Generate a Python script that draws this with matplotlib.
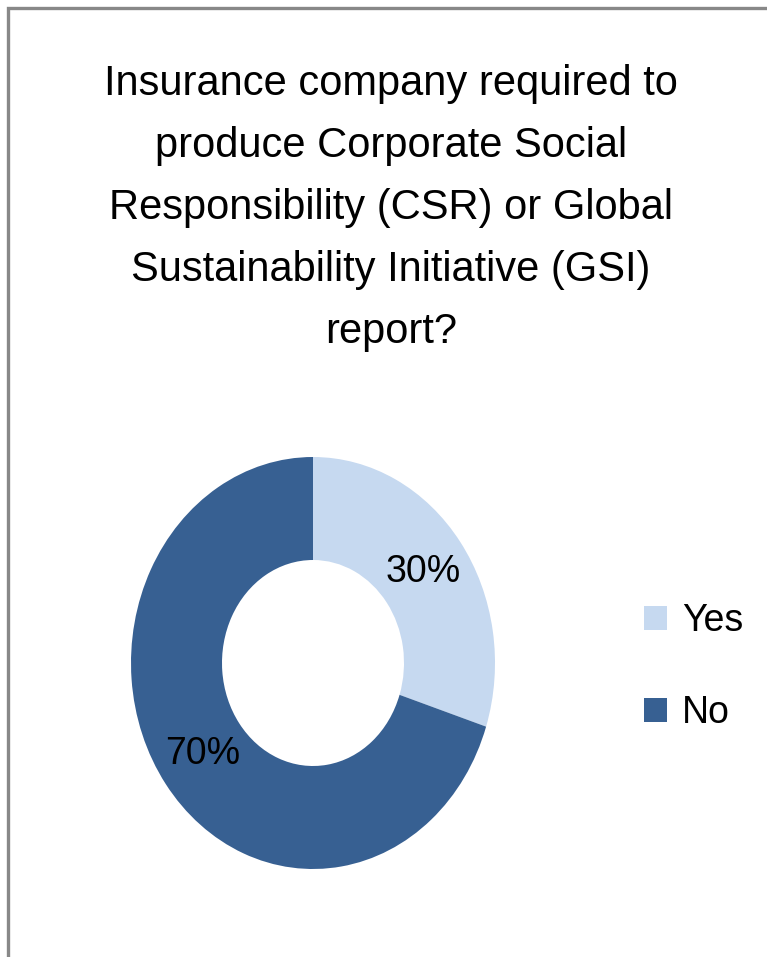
import matplotlib.pyplot as plt
from matplotlib.patches import Rectangle, Patch

# survey answers
labels = ["Yes", "No"]
shares = [30, 70]
colors = ["#c6d9f0", "#376092"]

title = ("Insurance company required to\n"
         "produce Corporate Social\n"
         "Responsibility (CSR) or Global\n"
         "Sustainability Initiative (GSI)\n"
         "report?")

plt.rcParams['font.family'] = ['Liberation Sans', 'DejaVu Sans']

W, H = 767, 957
fig = plt.figure(figsize=(W / 100, H / 100), dpi=100)

# grey frame, cut off on the right and bottom
fig.add_artist(Rectangle((7.5 / W, -0.1), 1.2, 1.1 - 7.5 / H, transform=fig.transFigure,
                         fill=False, edgecolor="#888888", linewidth=2.4))

fig.text(391 / W, 1 - 64 / H, title, ha="center", va="top", fontsize=30,
         linespacing=1.71, color="#000000")

# donut, stretched taller than wide
cx, cy, rx, ry = 313, 663, 182, 206
ax = fig.add_axes([(cx - rx) / W, 1 - (cy + ry) / H, 2 * rx / W, 2 * ry / H])
wedges, texts, autotexts = ax.pie(shares, colors=colors, startangle=90, counterclock=False,
                                  autopct="%d%%", pctdistance=0.75,
                                  wedgeprops=dict(width=0.5, edgecolor="none"),
                                  textprops=dict(fontsize=27, color="#000000"))
ax.set_aspect("auto")
ax.set_xlim(-1, 1)
ax.set_ylim(-1, 1)

handles = [Patch(facecolor=c, edgecolor="none") for c in colors]
fig.legend(handles, labels, loc="center left", bbox_to_anchor=(610 / W, 1 - 667 / H),
           frameon=False, fontsize=27, handlelength=0.62, handleheight=0.62,
           handletextpad=0.4, labelspacing=1.5)

fig.savefig("out.png", dpi=100)
